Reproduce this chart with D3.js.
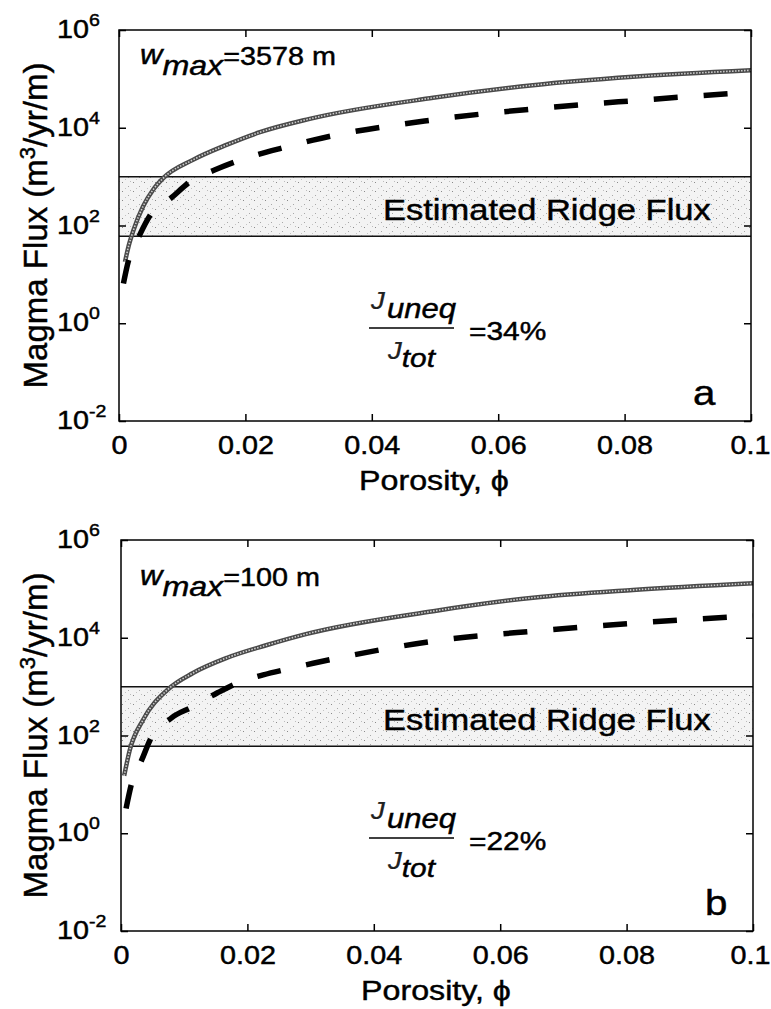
<!DOCTYPE html>
<html>
<head>
<meta charset="utf-8">
<script src="https://cdn.jsdelivr.net/npm/d3@7"></script>
<style>
  body { margin: 0; background: #fff; }
  text { font-family: "Liberation Sans", Arial, Helvetica, sans-serif; fill: #000; stroke: #000; stroke-width: 0.45px; }
</style>
</head>
<body>
<div id="chart"></div>
<script>
// ---- data ----
const xTicks = [0, 0.02, 0.04, 0.06, 0.08, 0.1];
const xTickLabels = ["0", "0.02", "0.04", "0.06", "0.08", "0.1"];
const yTicks = [1e-2, 1e0, 1e2, 1e4, 1e6];
const yTickExponents = ["-2", "0", "2", "4", "6"];
const bandFlux = [60, 1000];           // estimated ridge flux range
const panelLetters = ["a", "b"];
const wmaxLabels = ["=3578 m", "=100 m"];
const ratioLabels = ["=34%", "=22%"];

// [porosity, flux] pairs
const solidA = [[0.00095, 18], [0.0015, 37], [0.0023, 81], [0.0038, 245], [0.0054, 540],
  [0.007, 930], [0.0117, 2200], [0.0171, 4500], [0.0223, 8100], [0.03, 15000],
  [0.0497, 41000], [0.0655, 74000], [0.0813, 110000], [0.1, 150000]];
const dashedA = [[0.0007, 6.5], [0.0014, 17], [0.0033, 65], [0.0049, 160], [0.0084, 380],
  [0.0112, 780], [0.0152, 1380], [0.0188, 2100], [0.0266, 4100], [0.0307, 5600],
  [0.0497, 14500], [0.0666, 25000], [0.0829, 37000], [0.1, 54000]];
const solidB = [[0.0005, 15], [0.0014, 51], [0.0035, 210], [0.0073, 850], [0.0114, 1900],
  [0.0168, 3900], [0.0231, 7100], [0.0294, 12000], [0.0494, 35000], [0.0652, 66000],
  [0.081, 95000], [0.1, 130000]];
const dashedB = [[0.0008, 3.2], [0.0018, 12], [0.0033, 32], [0.0046, 81], [0.008, 230],
  [0.0112, 380], [0.0152, 740], [0.0185, 1200], [0.0225, 1740], [0.0264, 2300],
  [0.0304, 3000], [0.0494, 8500], [0.0663, 14000], [0.0826, 20500], [0.1, 28000]];

// ---- layout ----
const width = 771, height = 1009;
const plotW = 632, plotH = 391;
const panelTops = [30, 540];
const panelLefts = [119, 121];
const wmaxBase = [34, 45];   // baseline offset of the w_max label from the plot top
const SX = 1.15;             // horizontal stretch of the original lettering

const svg = d3.select("#chart").append("svg")
  .attr("width", width)
  .attr("height", height);

// stipple fill for the ridge flux band
const defs = svg.append("defs");
const pat = defs.append("pattern")
  .attr("id", "stipple")
  .attr("patternUnits", "userSpaceOnUse")
  .attr("width", 11).attr("height", 9);
pat.append("rect").attr("width", 11).attr("height", 9).attr("fill", "#f3f3f3");
[[1, 2, "#8a8a8a"], [7, 6, "#a8a8a8"], [4, 8, "#c4c4c4"], [9, 1, "#bcbcbc"]].forEach(p => {
  pat.append("rect").attr("x", p[0]).attr("y", p[1]).attr("width", 1).attr("height", 1).attr("fill", p[2]);
});

const series = [[solidA, dashedA], [solidB, dashedB]];

series.forEach((s, i) => {
  const top = panelTops[i], left = panelLefts[i];
  const g = svg.append("g");

  const x = d3.scaleLinear().domain([0, 0.1]).range([left, left + plotW]);
  const y = d3.scaleLog().domain([1e-2, 1e6]).range([top + plotH, top]);

  defs.append("clipPath").attr("id", "clip" + i)
    .append("rect")
    .attr("x", left).attr("y", top)
    .attr("width", plotW).attr("height", plotH);

  // band
  g.append("rect")
    .attr("x", left)
    .attr("y", y(bandFlux[1]))
    .attr("width", plotW)
    .attr("height", y(bandFlux[0]) - y(bandFlux[1]))
    .attr("fill", "url(#stipple)");
  bandFlux.forEach(v => {
    g.append("line")
      .attr("x1", left).attr("x2", left + plotW)
      .attr("y1", y(v)).attr("y2", y(v))
      .attr("stroke", "#111").attr("stroke-width", 1.5);
  });

  g.append("text")
    .attr("transform", `translate(383, ${y(bandFlux[0]) - 16}) scale(${SX},1)`)
    .attr("font-size", 30)
    .text("Estimated Ridge Flux");

  // curves
  const line = d3.line()
    .x(d => x(d[0]))
    .y(d => y(d[1]))
    .curve(d3.curveMonotoneX);

  const curves = g.append("g").attr("clip-path", `url(#clip${i})`);
  curves.append("path")
    .datum(s[0])
    .attr("fill", "none")
    .attr("stroke", "#4a4a4a")
    .attr("stroke-width", 4.5)
    .attr("d", line);
  curves.append("path")
    .datum(s[0])
    .attr("fill", "none")
    .attr("stroke", "#cfcfcf")
    .attr("stroke-width", 1.6)
    .attr("stroke-dasharray", "1.5,1.5")
    .attr("d", line);
  curves.append("path")
    .datum(s[1])
    .attr("fill", "none")
    .attr("stroke", "#000")
    .attr("stroke-width", 5.5)
    .attr("stroke-dasharray", "24,26")
    .attr("d", line);

  // frame
  g.append("rect")
    .attr("x", left).attr("y", top)
    .attr("width", plotW).attr("height", plotH)
    .attr("fill", "none")
    .attr("stroke", "#000")
    .attr("stroke-width", 1.5);

  // axes with inward ticks
  const xAxis = g.append("g")
    .attr("transform", `translate(0, ${top + plotH})`)
    .call(d3.axisBottom(x).tickValues(xTicks)
      .tickSizeInner(-7).tickSizeOuter(0).tickPadding(15.5)
      .tickFormat((d, k) => xTickLabels[k]));
  xAxis.attr("font-family", null).attr("font-size", 25);
  xAxis.selectAll("text").attr("transform", `scale(${SX},1)`).attr("fill", "#000");
  // keep the last label inside the page
  xAxis.selectAll(".tick").filter(d => d === 0.1).select("text")
    .attr("text-anchor", "end")
    .attr("x", (width - 1 - (left + plotW)) / SX);

  g.append("g")
    .attr("transform", `translate(0, ${top})`)
    .call(d3.axisTop(x).tickValues(xTicks).tickSizeInner(-7).tickSizeOuter(0).tickFormat(""));
  g.append("g")
    .attr("transform", `translate(${left}, 0)`)
    .call(d3.axisLeft(y).tickValues(yTicks).tickSizeInner(-7).tickSizeOuter(0).tickFormat(""));
  g.append("g")
    .attr("transform", `translate(${left + plotW}, 0)`)
    .call(d3.axisRight(y).tickValues(yTicks).tickSizeInner(-7).tickSizeOuter(0).tickFormat(""));

  g.selectAll(".domain").remove();
  g.selectAll(".tick line").attr("stroke", "#000").attr("stroke-width", 1.5);

  // y tick labels 10^n
  yTicks.forEach((v, k) => {
    const t = g.append("text")
      .attr("transform", `translate(57, ${y(v) + 8}) scale(${SX},1)`)
      .attr("font-size", 25);
    t.append("tspan").text("10");
    t.append("tspan").attr("font-size", 17).attr("dy", -12).text(yTickExponents[k]);
  });

  // axis titles
  g.append("text")
    .attr("transform", `translate(${left + plotW / 2 - 1}, ${top + plotH + 69}) scale(${SX},1)`)
    .attr("text-anchor", "middle")
    .attr("font-size", 28)
    .text("Porosity, \u03D5");

  const yl = g.append("text")
    .attr("transform", `translate(47, ${top + plotH / 2}) rotate(-90)`)
    .attr("text-anchor", "middle")
    .attr("font-size", 33);
  yl.append("tspan").text("Magma Flux (m");
  yl.append("tspan").attr("font-size", 22).attr("dy", -12).text("3");
  yl.append("tspan").attr("dy", 12).text("/yr/m)");

  // w_max annotation
  const wb = top + wmaxBase[i];
  const w = g.append("text")
    .attr("transform", `translate(140, ${wb}) scale(${SX},1)`)
    .attr("font-size", 27);
  w.append("tspan").attr("font-style", "italic").text("w");
  w.append("tspan").attr("font-style", "italic").attr("font-size", 28).attr("dy", 11).text("max");
  w.append("tspan").attr("font-size", 25).attr("dy", -10).text(wmaxLabels[i]);

  // J_uneq / J_tot ratio
  const L = top + 298;
  const num = g.append("text")
    .attr("transform", `translate(371, ${L - 19}) scale(${SX},1)`)
    .attr("font-size", 24).attr("font-style", "italic");
  num.append("tspan").attr("fill", "#222").attr("stroke-width", 0.2).text("J");
  num.append("tspan").attr("font-size", 27).attr("dy", 9).attr("dx", 2).text("uneq");

  g.append("line")
    .attr("x1", 369).attr("x2", 454)
    .attr("y1", L).attr("y2", L)
    .attr("stroke", "#000").attr("stroke-width", 1.4);

  const den = g.append("text")
    .attr("transform", `translate(388, ${L + 31}) scale(${SX},1)`)
    .attr("font-size", 24).attr("font-style", "italic");
  den.append("tspan").attr("fill", "#222").attr("stroke-width", 0.2).text("J");
  den.append("tspan").attr("font-size", 26).attr("dy", 8).attr("dx", 0).text("tot");

  g.append("text")
    .attr("transform", `translate(469, ${L + 12}) scale(${SX},1)`)
    .attr("font-size", 26)
    .text(ratioLabels[i]);

  // panel letter
  g.append("text")
    .attr("transform", `translate(${left + plotW - 58 + (i ? 10 : 0)}, ${top + plotH - 16}) scale(${SX},1)`)
    .attr("font-size", 35)
    .text(panelLetters[i]);
});
</script>
</body>
</html>
